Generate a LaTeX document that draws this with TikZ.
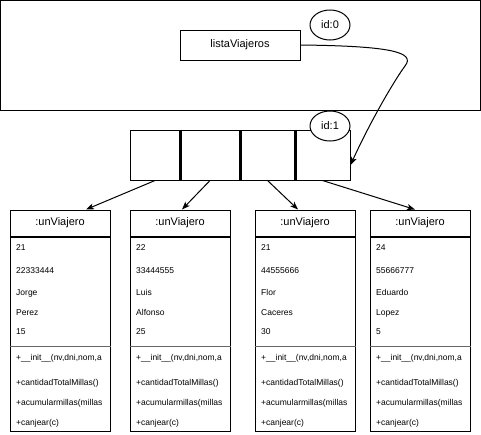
\documentclass[tikz,border=0pt]{standalone}
\usepackage{fontspec}
\setmainfont{Liberation Sans}
\usetikzlibrary{positioning,arrows.meta,shapes.geometric}

\tikzset{
  objbox/.style = {draw, line width=1pt, minimum width=100pt, minimum height=26pt, inner sep=0pt, font=\fontsize{11}{13}\selectfont},
  objbody/.style = {draw, line width=1pt, minimum width=100pt, minimum height=194pt, inner sep=0pt},
  attr/.style = {anchor=west, inner sep=0pt, text height=6.1pt, text depth=0pt, font=\fontsize{8.5}{10}\selectfont},
  cell/.style = {draw, line width=1pt, minimum height=50pt, inner sep=0pt},
  idtag/.style = {draw, ellipse, line width=1pt, minimum width=40pt, minimum height=30pt, inner sep=0pt, font=\fontsize{11}{13}\selectfont},
  link/.style = {line width=1pt, -{Stealth[length=8pt,width=6pt,inset=2pt]}}
}

\begin{document}
\begin{tikzpicture}[x=1pt, y=-1pt]
\useasboundingbox (0,0) rectangle (481,434);
% frame of the program
\draw[line width=1pt] (0.5,0.5) rectangle (480,110);
\node[draw, line width=1pt, minimum width=120pt, minimum height=30pt, inner sep=0pt, font=\fontsize{11}{13}\selectfont] (lista) at (240,45) {listaViajeros};
\node[idtag] (id0) at (330,25) {id:0};
% array of references
\node[cell, minimum width=50pt] (c1) at (155,155) {};
\node[cell, minimum width=60pt] (c2) at (210,155) {};
\node[cell, minimum width=55pt] (c3) at (267.5,155) {};
\node[cell, minimum width=55pt] (c4) at (322.5,155) {};
\draw[line width=3pt] (c1.north east) -- (c1.south east);
\draw[line width=3pt] (c2.north east) -- (c2.south east);
\draw[line width=3pt] (c3.north east) -- (c3.south east);
\node[idtag, fill=white] (id1) at (330,126) {id:1};
\draw[link] (lista.east) .. controls (390,46) and (416,52) .. (405,66) .. controls (396,78) and (372,118) .. ([yshift=-10pt]c4.east);
% the objects
\foreach \i/\x/\s/\nv/\dni/\nom/\ape/\mil in {1/60/26/21/22333444/Jorge/Perez/15, 2/180/2/22/33444555/Luis/Alfonso/25, 3/305/-7/21/44555666/Flor/Caceres/30, 4/420/-5/24/55666777/Eduardo/Lopez/5}{
  \node[objbox] (v\i) at (\x,223) {:unViajero};
  \node[objbody, below=0pt of v\i] (b\i) {};
  \draw[line width=1.2pt, black!60] ([yshift=-110pt]b\i.north west) -- ([yshift=-110pt]b\i.north east);
  \node[attr] (nv\i) at (\x-44,247) {\nv};
  \node[attr] (dni\i) at (\x-44,270) {\dni};
  \node[attr] (nom\i) at (\x-44,292.5) {\nom};
  \node[attr] (ape\i) at (\x-44,312.7) {\ape};
  \node[attr] (mil\i) at (\x-44,331.7) {\mil};
  \node[attr] (init\i) at (\x-44,357.3) {+\_\_init\_\_(nv,dni,nom,a};
  \node[attr] (tot\i) at (\x-44,382.7) {+cantidadTotalMillas()};
  \node[attr] (acu\i) at (\x-44,402.3) {+acumularmillas(millas};
  \node[attr] (can\i) at (\x-44,422.3) {+canjear(c)};
  \draw[link] (c\i.south) -- ([xshift=\s pt]v\i.north);
}
\end{tikzpicture}
\end{document}
